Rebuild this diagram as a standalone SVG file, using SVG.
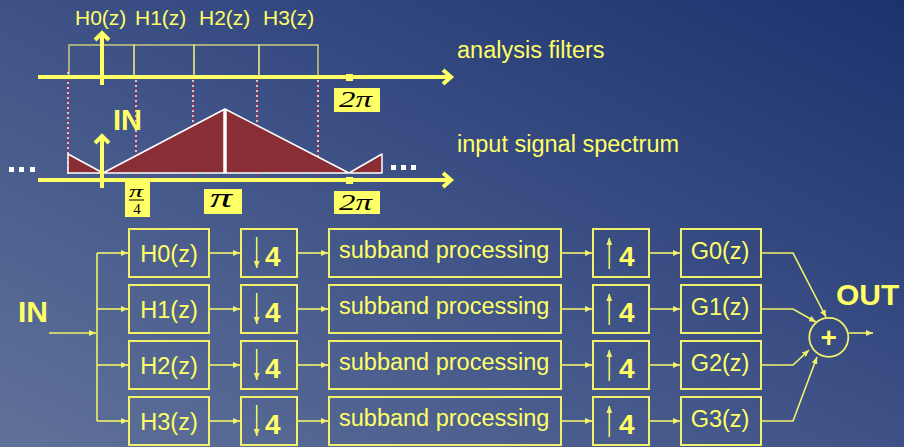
<svg xmlns="http://www.w3.org/2000/svg" width="904" height="447" viewBox="0 0 904 447">
<defs>
<linearGradient id="bg" x1="0" y1="1" x2="1" y2="0">
<stop offset="0" stop-color="#607299"/>
<stop offset="0.5" stop-color="#3e5287"/>
<stop offset="1" stop-color="#1b326d"/>
</linearGradient>
<marker id="ah" markerUnits="userSpaceOnUse" markerWidth="8" markerHeight="6" refX="7" refY="3" orient="auto">
<path d="M0,0 L7,3 L0,6 z" fill="#f2f26a"/>
</marker>
<style>
.t{font-family:"Liberation Sans",Arial,sans-serif;fill:#ffff66}
.b{font-weight:bold}
.box{fill:none;stroke:#f2f26a;stroke-width:2}
.fb{fill:none;stroke:#dede7a;stroke-width:1.3}
.ax{fill:none;stroke:#ffff66;stroke-width:4}
.axh{fill:none;stroke:#ffff66;stroke-width:4;stroke-linejoin:miter}
.con{fill:none;stroke:#f2f26a;stroke-width:1.6}
.lb{fill:#ffff66}
.m{font-family:"Liberation Serif","Times New Roman",serif;font-style:italic;fill:#000}
.dr{stroke:#c81e28;stroke-width:1.4;stroke-dasharray:3 2}
.dw{stroke:#ffffff;stroke-width:1.4;stroke-dasharray:2 3;stroke-dashoffset:3}
</style>
</defs>
<rect width="904" height="447" fill="url(#bg)"/>

<g id="spectrum-plot">
<g>
<line class="dr" x1="68" y1="70" x2="68" y2="175"/><line class="dw" x1="68" y1="70" x2="68" y2="175"/>
<line class="dr" x1="136" y1="78" x2="136" y2="175"/><line class="dw" x1="136" y1="78" x2="136" y2="175"/>
<line class="dr" x1="193" y1="78" x2="193" y2="175"/><line class="dw" x1="193" y1="78" x2="193" y2="175"/>
<line class="dr" x1="257" y1="78" x2="257" y2="175"/><line class="dw" x1="257" y1="78" x2="257" y2="175"/>
<line class="dr" x1="318" y1="78" x2="318" y2="175"/><line class="dw" x1="318" y1="78" x2="318" y2="175"/>
</g>
<g id="filters">
<rect class="fb" x="69" y="45" width="65" height="32"/>
<rect class="fb" x="134" y="45" width="60" height="32"/>
<rect class="fb" x="194" y="45" width="65" height="32"/>
<rect class="fb" x="259" y="45" width="59" height="32"/>
</g>
<text class="t" x="75" y="25" font-size="21">H0(z)</text>
<text class="t" x="135" y="25" font-size="21">H1(z)</text>
<text class="t" x="199" y="25" font-size="21">H2(z)</text>
<text class="t" x="263" y="25" font-size="21">H3(z)</text>
<line class="ax" x1="38" y1="77" x2="451" y2="77"/>
<polyline class="axh" points="443,70 451,77 443,84"/>
<line class="ax" x1="102" y1="85" x2="102" y2="33"/>
<polyline class="axh" points="95,40 102,33 109,40"/>
<rect x="346" y="74" width="7" height="7" fill="#ffff66"/>
<rect class="lb" x="334" y="88" width="46" height="24"/>
<text class="m" x="339" y="107" font-size="24" textLength="33" lengthAdjust="spacingAndGlyphs">2π</text>
<text class="t" x="457" y="58" font-size="23.5">analysis filters</text>

<polygon points="68,173 68,154 103,173 225,109 349,173 382,154 382,173" fill="#8a2e36" stroke="#ffffff" stroke-width="1.5" stroke-linejoin="round"/>
<line x1="225" y1="109" x2="225" y2="173" stroke="#ffffff" stroke-width="3.5"/>
<line class="ax" x1="38" y1="180" x2="451" y2="180"/>
<polyline class="axh" points="443,173 451,180 443,187"/>
<line class="ax" x1="102" y1="188" x2="102" y2="136"/>
<polyline class="axh" points="95,143 102,136 109,143"/>
<rect x="346" y="177" width="7" height="7" fill="#ffff66"/>
<text class="t b" x="113" y="130" font-size="29">IN</text>
<g fill="#ffffff">
<rect x="9" y="167" width="5" height="5"/><rect x="19" y="167" width="5" height="5"/><rect x="30" y="167" width="5" height="5"/>
<rect x="391" y="165" width="5" height="5"/><rect x="401" y="165" width="5" height="5"/><rect x="411" y="165" width="5" height="5"/>
</g>
<rect class="lb" x="125" y="182" width="25" height="35"/>
<text class="m" x="129" y="197" font-size="16" textLength="14" lengthAdjust="spacingAndGlyphs">π</text>
<line x1="129" y1="200" x2="144" y2="200" stroke="#000" stroke-width="1"/>
<text x="137" y="214" font-size="15" text-anchor="middle" font-family="Liberation Serif,serif" fill="#000">4</text>
<rect class="lb" x="204" y="189" width="38" height="25"/>
<text class="m" x="210" y="207" font-size="28" textLength="22" lengthAdjust="spacingAndGlyphs">π</text>
<rect class="lb" x="334" y="191" width="46" height="23"/>
<text class="m" x="339" y="210" font-size="24" textLength="33" lengthAdjust="spacingAndGlyphs">2π</text>
<text class="t" x="457" y="152" font-size="23.5">input signal spectrum</text>
</g>

<g id="connectors">
<path class="con" d="M49,333 H96" marker-end="url(#ah)"/>
<path class="con" d="M97,253 V421"/>
<path class="con" d="M97,253 H128" marker-end="url(#ah)"/>
<path class="con" d="M97,309 H128" marker-end="url(#ah)"/>
<path class="con" d="M97,365 H128" marker-end="url(#ah)"/>
<path class="con" d="M97,421 H128" marker-end="url(#ah)"/>
<path class="con" d="M209,253 H240" marker-end="url(#ah)"/>
<path class="con" d="M209,309 H240" marker-end="url(#ah)"/>
<path class="con" d="M209,365 H240" marker-end="url(#ah)"/>
<path class="con" d="M209,421 H240" marker-end="url(#ah)"/>
<path class="con" d="M297,253 H328" marker-end="url(#ah)"/>
<path class="con" d="M297,309 H328" marker-end="url(#ah)"/>
<path class="con" d="M297,365 H328" marker-end="url(#ah)"/>
<path class="con" d="M297,421 H328" marker-end="url(#ah)"/>
<path class="con" d="M561,253 H592" marker-end="url(#ah)"/>
<path class="con" d="M561,309 H592" marker-end="url(#ah)"/>
<path class="con" d="M561,365 H592" marker-end="url(#ah)"/>
<path class="con" d="M561,421 H592" marker-end="url(#ah)"/>
<path class="con" d="M649,253 H680" marker-end="url(#ah)"/>
<path class="con" d="M649,309 H680" marker-end="url(#ah)"/>
<path class="con" d="M649,365 H680" marker-end="url(#ah)"/>
<path class="con" d="M649,421 H680" marker-end="url(#ah)"/>
<path class="con" d="M761,253 H793 L826,317" marker-end="url(#ah)"/>
<path class="con" d="M761,309 H793 L816,322" marker-end="url(#ah)"/>
<path class="con" d="M761,365 H793 L809,350" marker-end="url(#ah)"/>
<path class="con" d="M761,421 H793 L817,357" marker-end="url(#ah)"/>
<path class="con" d="M849,333 H873" marker-end="url(#ah)"/>
</g>

<text class="t b" x="18" y="322" font-size="30">IN</text>

<g id="H0"><rect class="box" x="129" y="229" width="80" height="48"/><text class="t" x="169" y="262" font-size="23.5" text-anchor="middle">H0(z)</text></g>
<g id="H1"><rect class="box" x="129" y="285" width="80" height="48"/><text class="t" x="169" y="318" font-size="23.5" text-anchor="middle">H1(z)</text></g>
<g id="H2"><rect class="box" x="129" y="341" width="80" height="48"/><text class="t" x="169" y="374" font-size="23.5" text-anchor="middle">H2(z)</text></g>
<g id="H3"><rect class="box" x="129" y="397" width="80" height="48"/><text class="t" x="169" y="430" font-size="23.5" text-anchor="middle">H3(z)</text></g>

<g id="D0"><rect class="box" x="241" y="229" width="56" height="48"/><path class="con" d="M256.7,237 V268" marker-end="url(#ah)"/><text class="t b" x="265" y="266" font-size="28">4</text></g>
<g id="D1"><rect class="box" x="241" y="285" width="56" height="48"/><path class="con" d="M256.7,293 V324" marker-end="url(#ah)"/><text class="t b" x="265" y="322" font-size="28">4</text></g>
<g id="D2"><rect class="box" x="241" y="341" width="56" height="48"/><path class="con" d="M256.7,349 V380" marker-end="url(#ah)"/><text class="t b" x="265" y="378" font-size="28">4</text></g>
<g id="D3"><rect class="box" x="241" y="397" width="56" height="48"/><path class="con" d="M256.7,405 V436" marker-end="url(#ah)"/><text class="t b" x="265" y="434" font-size="28">4</text></g>

<g id="S0"><rect class="box" x="329" y="229" width="232" height="48"/><text class="t" x="339" y="258" font-size="23.5">subband processing</text></g>
<g id="S1"><rect class="box" x="329" y="285" width="232" height="48"/><text class="t" x="339" y="314" font-size="23.5">subband processing</text></g>
<g id="S2"><rect class="box" x="329" y="341" width="232" height="48"/><text class="t" x="339" y="370" font-size="23.5">subband processing</text></g>
<g id="S3"><rect class="box" x="329" y="397" width="232" height="48"/><text class="t" x="339" y="426" font-size="23.5">subband processing</text></g>

<g id="U0"><rect class="box" x="593" y="229" width="56" height="48"/><path class="con" d="M609.3,269 V238" marker-end="url(#ah)"/><text class="t b" x="619" y="266" font-size="28">4</text></g>
<g id="U1"><rect class="box" x="593" y="285" width="56" height="48"/><path class="con" d="M609.3,325 V294" marker-end="url(#ah)"/><text class="t b" x="619" y="322" font-size="28">4</text></g>
<g id="U2"><rect class="box" x="593" y="341" width="56" height="48"/><path class="con" d="M609.3,381 V350" marker-end="url(#ah)"/><text class="t b" x="619" y="378" font-size="28">4</text></g>
<g id="U3"><rect class="box" x="593" y="397" width="56" height="48"/><path class="con" d="M609.3,437 V406" marker-end="url(#ah)"/><text class="t b" x="619" y="434" font-size="28">4</text></g>

<g id="G0"><rect class="box" x="681" y="229" width="80" height="48"/><text class="t" x="720" y="259" font-size="23.5" text-anchor="middle">G0(z)</text></g>
<g id="G1"><rect class="box" x="681" y="285" width="80" height="48"/><text class="t" x="720" y="315" font-size="23.5" text-anchor="middle">G1(z)</text></g>
<g id="G2"><rect class="box" x="681" y="341" width="80" height="48"/><text class="t" x="720" y="371" font-size="23.5" text-anchor="middle">G2(z)</text></g>
<g id="G3"><rect class="box" x="681" y="397" width="80" height="48"/><text class="t" x="720" y="427" font-size="23.5" text-anchor="middle">G3(z)</text></g>

<g id="sum"><circle cx="828.8" cy="337.3" r="19.5" fill="none" stroke="#f2f26a" stroke-width="1.8"/><text class="t b" x="828.8" y="347" font-size="28" text-anchor="middle">+</text></g>
<text class="t b" x="836" y="305" font-size="30">OUT</text>
</svg>
